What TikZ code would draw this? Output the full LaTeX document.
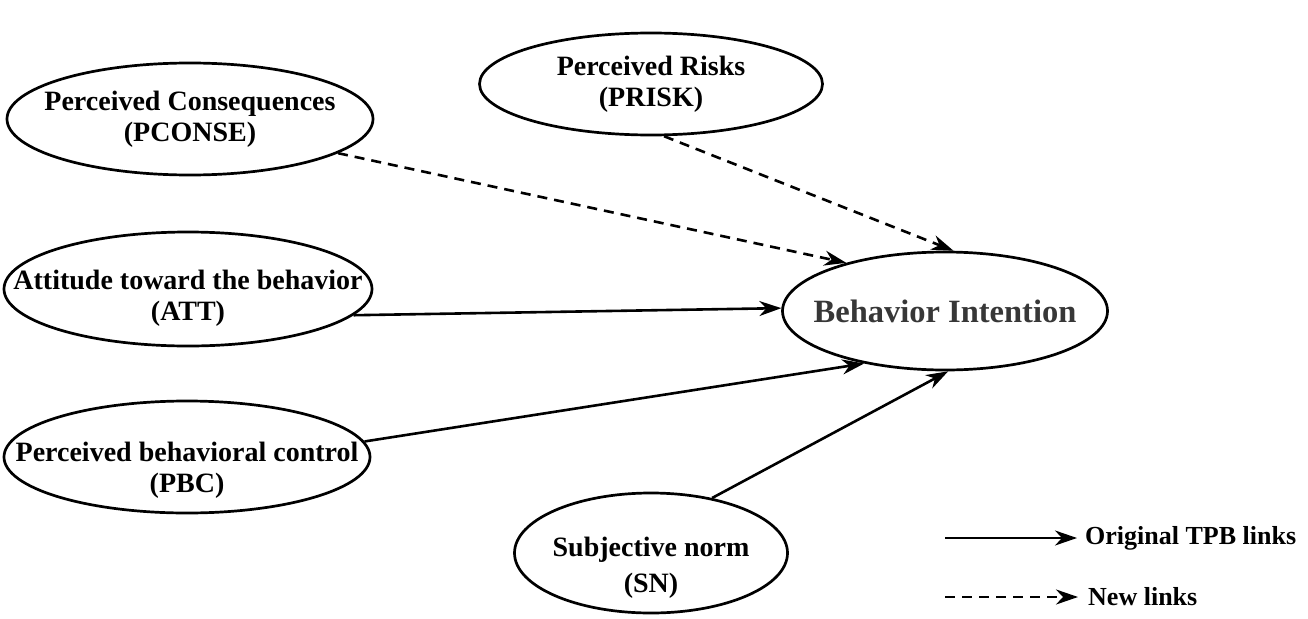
\documentclass[tikz,border=0pt]{standalone}
\usepackage{fontspec}
\setmainfont{Liberation Serif}
\usetikzlibrary{shapes.geometric,arrows.meta}
\definecolor{bigray}{RGB}{55,55,55}
\newcommand\lowerstrut[1]{\rule{0pt}{#1}}
\begin{document}
\begin{tikzpicture}[x=1pt,y=-1pt,
  latent/.style={ellipse, draw, line width=2.7pt, inner xsep=-60pt, inner ysep=-40pt,
    align=center, font=\fontsize{28}{31}\selectfont\bfseries},
  link/.style={line width=2.6pt, -{Stealth[length=22pt,width=15pt,inset=7pt]}},
  newlink/.style={link, dash pattern=on 10pt off 7pt},
  legtext/.style={anchor=west, inner sep=0pt, font=\fontsize{26}{30}\selectfont\bfseries}
]
\useasboundingbox (0,0) rectangle (1308,618);
\node[latent, minimum width=366pt, minimum height=112pt] (pconse) at (190,119) {Perceived Consequences\\(PCONSE)};
\node[latent, minimum width=343pt, minimum height=102pt] (prisk) at (651,84) {Perceived Risks\\(PRISK)};
\node[latent, minimum width=368pt, minimum height=114pt] (att) at (188,289) {\lowerstrut{37pt}Attitude toward the behavior\\(ATT)};
\node[latent, minimum width=325pt, minimum height=118pt, text=bigray,
  font=\fontsize{32.5}{36}\selectfont\bfseries] (bi) at (945,311) {Behavior Intention};
\node[latent, minimum width=366pt, minimum height=112pt] (pbc) at (187,457) {\lowerstrut{45pt}Perceived behavioral control\\(PBC)};
\node[latent, minimum width=273pt, minimum height=120pt,
  font=\fontsize{28}{36}\selectfont\bfseries] (sn) at (651,553) {\lowerstrut{48pt}Subjective norm\\(SN)};

\draw[newlink] (pconse.-13) -- (bi.154);
\draw[newlink] (prisk.-76) -- (bi.82);
\draw[link] (att.-9) -- (bi.179);
\draw[link] (pbc.5) -- (bi.213);
\draw[link] (sn.42) -- (bi.-87);

\coordinate (l1) at (945,538);
\coordinate (l2) at (945,597);
\node[legtext] (leg1) at (1085,538) {Original TPB links};
\node[legtext] (leg2) at (1088,597) {New links};
\draw[link] (l1) -- ([xshift=-8pt]leg1.west);
\draw[newlink] (l2) -- ([xshift=-10pt]leg2.west);
\end{tikzpicture}
\end{document}
